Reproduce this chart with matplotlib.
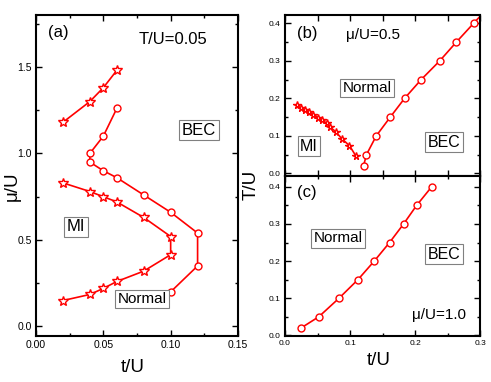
import matplotlib
matplotlib.use('Agg')
import matplotlib.pyplot as plt
from matplotlib.ticker import MultipleLocator

plt.rcParams['font.family'] = ['Liberation Sans', 'DejaVu Sans']

# ---- panel (a): T/U = 0.05, mu/U vs t/U
a_star_up_t = [0.02, 0.04, 0.05, 0.06]
a_star_up_mu = [1.18, 1.30, 1.38, 1.48]

a_circ_t = [0.06, 0.05, 0.04, 0.04, 0.05, 0.06, 0.08, 0.10, 0.12, 0.12, 0.10]
a_circ_mu = [1.26, 1.10, 1.00, 0.95, 0.90, 0.86, 0.76, 0.66, 0.54, 0.35, 0.20]

a_star_lo_t = [0.02, 0.04, 0.05, 0.06, 0.08, 0.10, 0.10, 0.08, 0.06, 0.05, 0.04, 0.02]
a_star_lo_mu = [0.83, 0.78, 0.75, 0.72, 0.63, 0.52, 0.415, 0.32, 0.26, 0.22, 0.185, 0.15]

# ---- panel (b): mu/U = 0.5, T/U vs t/U
b_star_t = [0.018, 0.0245, 0.031, 0.037, 0.043, 0.051, 0.057, 0.064, 0.069,
            0.078, 0.087, 0.099, 0.109]
b_star_T = [0.182, 0.174, 0.169, 0.163, 0.157, 0.148, 0.142, 0.134, 0.124,
            0.111, 0.093, 0.074, 0.046]

b_circ_t = [0.1205, 0.125, 0.140, 0.1615, 0.1835, 0.209, 0.2375, 0.263, 0.2895, 0.316]
b_circ_T = [0.02, 0.05, 0.10, 0.15, 0.20, 0.25, 0.30, 0.35, 0.40, 0.45]

# ---- panel (c): mu/U = 1.0
c_circ_t = [0.025, 0.052, 0.083, 0.112, 0.137, 0.1605, 0.182, 0.202, 0.225]
c_circ_T = [0.02, 0.05, 0.10, 0.15, 0.20, 0.25, 0.30, 0.35, 0.40]

red = '#ff0000'
box = dict(boxstyle='square,pad=0.15', fc='white', ec='#808080', lw=0.8)

fig = plt.figure(figsize=(4.91, 3.82), dpi=100)
ax_a = fig.add_axes([0.0733, 0.1204, 0.4114, 0.8403])
ax_b = fig.add_axes([0.5804, 0.5400, 0.3982, 0.4207])
ax_c = fig.add_axes([0.5804, 0.1204, 0.3982, 0.4196])


def style(ax, lsize):
    for s in ax.spines.values():
        s.set_linewidth(1.5)
    ax.tick_params(which='both', direction='in', top=True, right=True,
                   width=1.0, labelsize=lsize, pad=3)
    ax.tick_params(which='major', length=4)
    ax.tick_params(which='minor', length=2.5)


def line(ax, x, y, marker, ms):
    ax.plot(x, y, color=red, lw=1.2, marker=marker, ms=ms,
            mfc='white', mec=red, mew=1.0)


# (a)
line(ax_a, a_star_up_t, a_star_up_mu, '*', 7)
line(ax_a, a_circ_t, a_circ_mu, 'o', 5)
line(ax_a, a_star_lo_t, a_star_lo_mu, '*', 7)
ax_a.set_xlim(0, 0.15)
ax_a.set_ylim(-0.055, 1.8)
ax_a.xaxis.set_major_locator(MultipleLocator(0.05))
ax_a.xaxis.set_minor_locator(MultipleLocator(0.025))
ax_a.yaxis.set_major_locator(MultipleLocator(0.5))
ax_a.yaxis.set_minor_locator(MultipleLocator(0.25))
ax_a.xaxis.set_major_formatter(plt.FormatStrFormatter('%.2f'))
ax_a.yaxis.set_major_formatter(plt.FormatStrFormatter('%.1f'))
style(ax_a, 7.5)
ax_a.set_xlabel('t/U', fontsize=13.5, va='center')
ax_a.xaxis.set_label_coords(0.48, -0.097)
ax_a.set_ylabel('μ/U', fontsize=13.5, va='center')
ax_a.yaxis.set_label_coords(-0.116, 0.467)
ax_a.text(0.0163, 1.70, '(a)', fontsize=12, ha='center', va='center')
ax_a.text(0.1017, 1.657, 'T/U=0.05', fontsize=12, ha='center', va='center')
ax_a.text(0.121, 1.133, 'BEC', fontsize=12, ha='center', va='center', bbox=box)
ax_a.text(0.0297, 0.576, 'MI', fontsize=12, ha='center', va='center', bbox=box)
ax_a.text(0.0787, 0.16, 'Normal', fontsize=11, ha='center', va='center', bbox=box)

# (b)
line(ax_b, b_star_t, b_star_T, '*', 5.5)
line(ax_b, b_circ_t, b_circ_T, 'o', 5)
ax_b.set_xlim(0, 0.3)
ax_b.set_ylim(-0.006, 0.422)
ax_b.xaxis.set_major_locator(MultipleLocator(0.05))
ax_b.yaxis.set_major_locator(MultipleLocator(0.1))
ax_b.yaxis.set_minor_locator(MultipleLocator(0.05))
ax_b.yaxis.set_major_formatter(plt.FormatStrFormatter('%.1f'))
ax_b.tick_params(labelbottom=False)
style(ax_b, 6)
ax_b.text(0.0337, 0.374, '(b)', fontsize=12, ha='center', va='center')
ax_b.text(0.135, 0.369, 'μ/U=0.5', fontsize=11, ha='center', va='center')
ax_b.text(0.1258, 0.2275, 'Normal', fontsize=11, ha='center', va='center', bbox=box)
ax_b.text(0.0368, 0.0728, 'MI', fontsize=11.5, ha='center', va='center', bbox=box)
ax_b.text(0.244, 0.083, 'BEC', fontsize=11.5, ha='center', va='center', bbox=box)

# (c)
line(ax_c, c_circ_t, c_circ_T, 'o', 5)
ax_c.set_xlim(0, 0.3)
ax_c.set_ylim(-0.002, 0.43)
ax_c.xaxis.set_major_locator(MultipleLocator(0.1))
ax_c.xaxis.set_minor_locator(MultipleLocator(0.05))
ax_c.yaxis.set_major_locator(MultipleLocator(0.1))
ax_c.yaxis.set_minor_locator(MultipleLocator(0.05))
ax_c.xaxis.set_major_formatter(plt.FormatStrFormatter('%.1f'))
ax_c.yaxis.set_major_formatter(plt.FormatStrFormatter('%.1f'))
style(ax_c, 6)
ax_c.set_xlabel('t/U', fontsize=13.5, va='center')
ax_c.xaxis.set_label_coords(0.48, -0.155)
ax_c.text(0.0337, 0.385, '(c)', fontsize=12, ha='center', va='center')
ax_c.text(0.081, 0.261, 'Normal', fontsize=11, ha='center', va='center', bbox=box)
ax_c.text(0.244, 0.218, 'BEC', fontsize=11.5, ha='center', va='center', bbox=box)
ax_c.text(0.236, 0.054, 'μ/U=1.0', fontsize=11, ha='center', va='center')

fig.text(0.512, 0.517, 'T/U', fontsize=13.5, rotation=90, ha='center', va='center')

fig.savefig('out.png', dpi=100)
